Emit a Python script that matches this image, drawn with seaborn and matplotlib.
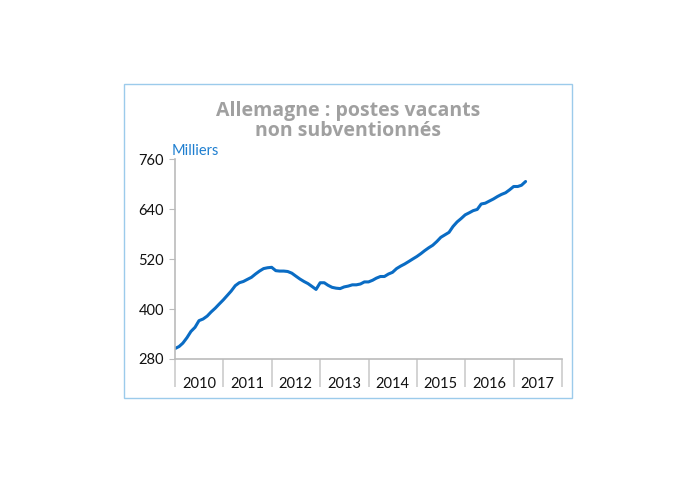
import matplotlib.pyplot as plt
from matplotlib.patches import Rectangle
import pandas as pd
import seaborn as sns

# postes vacants non subventionnés, en milliers (mensuel, janv. 2010 - avr. 2017)
valeurs = [
    305, 310, 318, 331, 346, 356, 372, 376, 383, 393, 402, 412,   # 2010
    422, 433, 443, 456, 463, 466, 471, 476, 484, 491, 497, 499,   # 2011
    500, 492, 491, 491, 490, 486, 479, 472, 466, 461, 454, 447,   # 2012
    463, 463, 457, 452, 450, 449, 453, 455, 458, 458, 460, 465,   # 2013
    465, 469, 474, 478, 478, 484, 488, 497, 503, 508, 514, 520,   # 2014
    526, 533, 540, 547, 553, 562, 572, 578, 584, 598, 609, 617,   # 2015
    626, 631, 636, 639, 652, 654, 659, 664, 670, 675, 679, 686,   # 2016
    694, 694, 697, 706,                                           # 2017
]
debut = "2010-01-01"
annees = [2010, 2011, 2012, 2013, 2014, 2015, 2016, 2017]
yticks = [280, 400, 520, 640, 760]

titre = "Allemagne : postes vacants\nnon subventionnés"
unite = "Milliers"

df = pd.DataFrame({
    "date": pd.date_range(debut, periods=len(valeurs), freq="MS"),
    "valeur": valeurs,
})

sns.set_style("white")
plt.rcParams["font.family"] = ["Lato", "DejaVu Sans"]

fig = plt.figure(figsize=(6.95, 4.83), dpi=100)

# cadre bleu clair autour du graphique
fig.patches.append(Rectangle((124 / 695, 1 - 398 / 483), 448 / 695, 314 / 483,
                             transform=fig.transFigure, fill=False,
                             edgecolor="#9ccbeb", linewidth=1.0))

ax = fig.add_axes([175 / 695, 1 - 359 / 483, 387 / 695, 200 / 483])
sns.lineplot(data=df, x="date", y="valeur", ax=ax, color="#0a6cc4", linewidth=2.2)

ax.set_ylim(280, 760)
ax.set_xlim(pd.Timestamp(f"{annees[0]}-01-01"), pd.Timestamp(f"{annees[-1] + 1}-01-01"))
ax.set_yticks(yticks)
ax.set_yticklabels([str(v) for v in yticks], fontsize=10.5, color="#111111")
ax.tick_params(axis="y", length=4, color="#bbbbbb", pad=4, left=True)

# séparateurs d'années (majeurs) et libellés au milieu de l'année (mineurs)
bornes = [pd.Timestamp(f"{a}-01-01") for a in annees + [annees[-1] + 1]]
milieux = [pd.Timestamp(f"{a}-07-01") for a in annees]
ax.set_xticks(bornes)
ax.set_xticklabels([""] * len(bornes))
ax.set_xticks(milieux, minor=True)
ax.set_xticklabels([str(a) for a in annees], minor=True, fontsize=10.5, color="#111111")
ax.tick_params(axis="x", which="major", length=20, color="#cccccc", width=1.2, bottom=True)
ax.tick_params(axis="x", which="minor", length=0, pad=13)

for s in ["top", "right"]:
    ax.spines[s].set_visible(False)
for s in ["left", "bottom"]:
    ax.spines[s].set_color("#bbbbbb")
    ax.spines[s].set_linewidth(1.2)

ax.set_xlabel("")
ax.set_ylabel("")
ax.grid(False)

fig.text(348 / 695, 1 - 121 / 483, titre, ha="center", va="center",
         fontsize=14, fontweight="bold", color="#a0a0a0", linespacing=1.0,
         family=["Open Sans", "DejaVu Sans"])
fig.text(172 / 695, 1 - 151 / 483, unite, ha="left", va="center",
         fontsize=10.5, color="#1f7fd0")

fig.savefig("out.png", dpi=100, facecolor="white")
